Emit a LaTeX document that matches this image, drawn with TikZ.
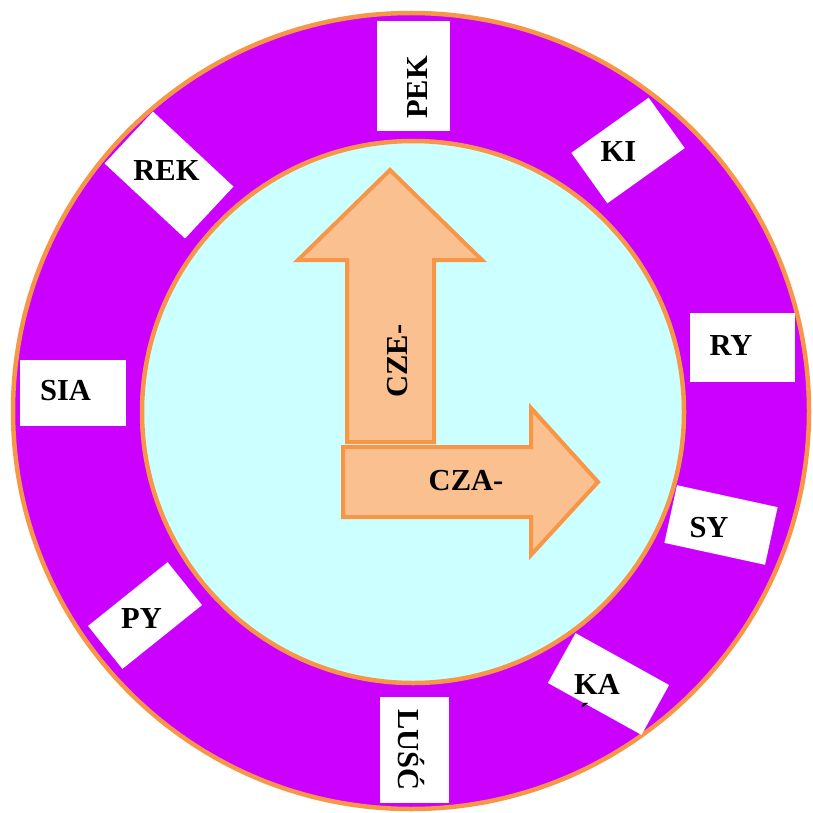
\documentclass[tikz,border=0pt]{standalone}
\usepackage{fontspec}
\setmainfont{Liberation Serif}
\definecolor{ringpurple}{HTML}{CC00FF}
\definecolor{innercyan}{HTML}{CCFFFF}
\definecolor{edgeorange}{HTML}{F79646}
\definecolor{arrowfill}{HTML}{FAC090}
\tikzset{
  tagbox/.style={fill=white, draw=none, inner sep=0pt},
  lbl/.style={font=\fontsize{30.5}{35}\selectfont\bfseries, inner sep=0pt, anchor=base, text=black},
  bigarrow/.style={fill=arrowfill, draw=edgeorange, line width=4pt, line join=miter},
  ring/.style={draw=edgeorange, line width=4.5pt}
}
\begin{document}
\begin{tikzpicture}[x=1pt,y=-1pt]
\useasboundingbox (0,0) rectangle (812,813);
% rings
\filldraw[ring, fill=ringpurple] (411,411) circle[radius=398pt];
\filldraw[ring, fill=innercyan] (413,412) circle[radius=271pt];
% boxes
\node[tagbox, minimum width=73pt, minimum height=110pt] (bPEK) at (413.5,76) {};
\node[tagbox, minimum width=95pt, minimum height=62pt, rotate=35.5] (bKI) at (628,150.5) {};
\node[tagbox, minimum width=110pt, minimum height=71pt, rotate=-43] (bREK) at (169,175) {};
\node[tagbox, minimum width=105pt, minimum height=69pt] (bRY) at (742.5,347.5) {};
\node[tagbox, minimum width=103pt, minimum height=59pt, rotate=-12.3] (bSY) at (721,525) {};
\node[tagbox, minimum width=107pt, minimum height=57pt, rotate=-29] (bKA) at (608.5,684) {};
\node[tagbox, minimum width=69pt, minimum height=106pt] (bLUSC) at (414.5,750) {};
\node[tagbox, minimum width=102pt, minimum height=55pt, rotate=38.7] (bPY) at (145,615.5) {};
\node[tagbox, minimum width=106pt, minimum height=66pt] (bSIA) at (73,393) {};
% labels
\node[lbl, rotate=90] (tPEK) at (427,87.5) {PEK};
\node[lbl] (tKI) at (618.5,161) {KI};
\node[lbl] (tREK) at (166.5,180) {REK};
\node[lbl] (tRY) at (731,355) {RY};
\node[lbl] (tSY) at (709,537) {SY};
\node[lbl] (tKA) at (597,694) {KA};
\begin{scope}
  \clip (560,695) rectangle (620,706);
  \node[lbl, anchor=base west] (tKA2) at (574,729) {Ś};
\end{scope}
\node[lbl, rotate=-90] (tLUSC) at (398,750) {LUŚĆ};
\node[lbl] (tPY) at (141.5,628) {PY};
\node[lbl] (tSIA) at (65.5,400) {SIA};
% arrows
\draw[bigarrow] (347,442) -- (347,260) -- (298,260) -- (390,170) -- (482,260) -- (434,260) -- (434,442) -- cycle;
\draw[bigarrow] (343,447) -- (531,447) -- (531,408) -- (598,482) -- (531,555) -- (531,517) -- (343,517) -- cycle;
\node[lbl, rotate=90] (tCZE) at (407,361) {CZE-};
\node[lbl] (tCZA) at (466,490) {CZA-};
\end{tikzpicture}
\end{document}
